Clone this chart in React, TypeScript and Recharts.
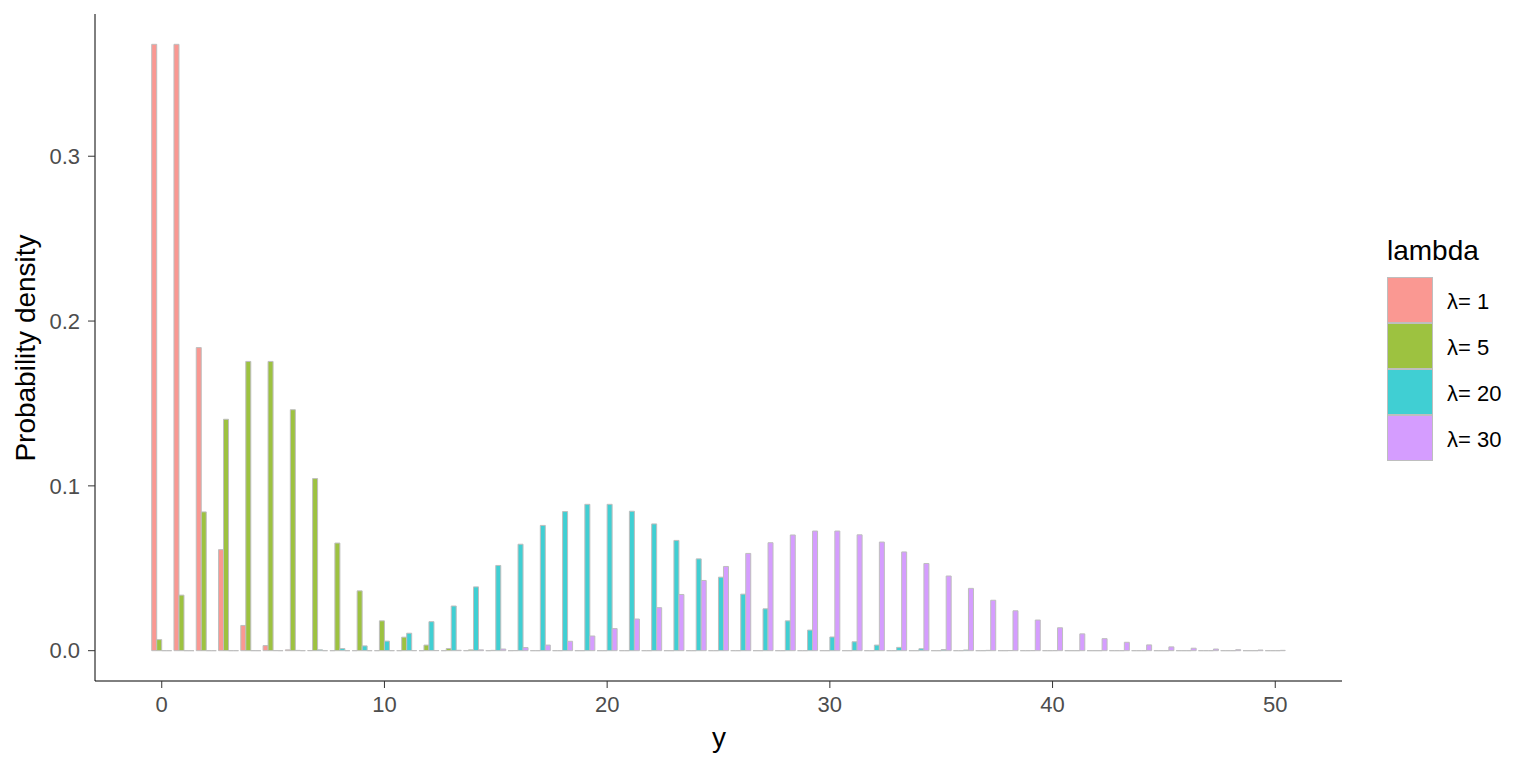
import React from "react";
import { BarChart, Bar, XAxis, YAxis } from "recharts";

// y values 0..50
const yValues = [
  0, 1, 2, 3, 4, 5, 6, 7, 8, 9, 10, 11, 12, 13, 14, 15, 16, 17, 18, 19, 20, 21, 22, 23, 24, 25,
  26, 27, 28, 29, 30, 31, 32, 33, 34, 35, 36, 37, 38, 39, 40, 41, 42, 43, 44, 45, 46, 47, 48, 49, 50,
];

// probability (near-zero bars only show their grey outline)
const lam1 = [
  0.3679, 0.3679, 0.1839, 0.0613, 0.0153, 0.0031, 0.0005, 0.00007, 0.00001, 0.000001,
  0.000001, 0.000001, 0.000001, 0.000001, 0.000001, 0.000001, 0.000001, 0.000001, 0.000001, 0.000001,
  0.000001, 0.000001, 0.000001, 0.000001, 0.000001, 0.000001, 0.000001, 0.000001, 0.000001, 0.000001,
  0.000001, 0.000001, 0.000001, 0.000001, 0.000001, 0.000001, 0.000001, 0.000001, 0.000001, 0.000001,
  0.000001, 0.000001, 0.000001, 0.000001, 0.000001, 0.000001, 0.000001, 0.000001, 0.000001, 0.000001,
  0.000001,
];
const lam5 = [
  0.0067, 0.0337, 0.0842, 0.1404, 0.1755, 0.1755, 0.1462, 0.1044, 0.0653, 0.0363,
  0.0181, 0.0082, 0.0034, 0.0013, 0.0005, 0.0002, 0.00005, 0.00001, 0.000001, 0.000001,
  0.000001, 0.000001, 0.000001, 0.000001, 0.000001, 0.000001, 0.000001, 0.000001, 0.000001, 0.000001,
  0.000001, 0.000001, 0.000001, 0.000001, 0.000001, 0.000001, 0.000001, 0.000001, 0.000001, 0.000001,
  0.000001, 0.000001, 0.000001, 0.000001, 0.000001, 0.000001, 0.000001, 0.000001, 0.000001, 0.000001,
  0.000001,
];
const lam20 = [
  0.000001, 0.000001, 0.000001, 0.000003, 0.000014, 0.000055, 0.00018, 0.00052, 0.0013, 0.0029,
  0.0058, 0.0106, 0.0176, 0.0271, 0.0387, 0.0517, 0.0646, 0.0760, 0.0844, 0.0888,
  0.0888, 0.0846, 0.0769, 0.0669, 0.0557, 0.0446, 0.0343, 0.0254, 0.0181, 0.0125,
  0.0083, 0.0054, 0.0034, 0.0020, 0.0012, 0.0007, 0.0004, 0.0002, 0.0001, 0.00005,
  0.00003, 0.00001, 0.000006, 0.000003, 0.000001, 0.000001, 0.000001, 0.000001, 0.000001, 0.000001,
  0.000001,
];
const lam30 = [
  0.000001, 0.000001, 0.000001, 0.000001, 0.000001, 0.000001, 0.000001, 0.000001, 0.000002, 0.000005,
  0.000016, 0.00004, 0.0001, 0.00024, 0.0005, 0.001, 0.0019, 0.0034, 0.0057, 0.0089,
  0.0134, 0.0192, 0.0261, 0.0341, 0.0426, 0.0511, 0.0590, 0.0655, 0.0702, 0.0726,
  0.0726, 0.0703, 0.0659, 0.0599, 0.0529, 0.0453, 0.0378, 0.0306, 0.0242, 0.0186,
  0.0139, 0.0102, 0.0073, 0.0051, 0.0035, 0.0023, 0.0015, 0.001, 0.0006, 0.0004,
  0.0002,
];

const seriesNames = ["λ= 1", "λ= 5", "λ= 20", "λ= 30"];
const seriesKeys = ["l1", "l5", "l20", "l30"];
const colors = ["#FA9892", "#9DC240", "#40CFD3", "#D59DFF"];
const yTicks = [0, 0.1, 0.2, 0.3];

const data = yValues.map((y, i) => ({
  y,
  l1: lam1[i],
  l5: lam5[i],
  l20: lam20[i],
  l30: lam30[i],
}));

const FONT = "'Liberation Sans', Arial, sans-serif";
const OUTLINE = "#BEBEBE";

export default function App() {
  return (
    <div style={{ position: "absolute", left: 0, top: 0, width: 1536, height: 768, background: "#fff" }}>
      <BarChart
        width={1536}
        height={768}
        data={data}
        margin={{ top: 14, right: 194, left: 35, bottom: 47 }}
        barCategoryGap="5%"
        barGap={0}
      >
        <XAxis
          dataKey="y"
          interval={9}
          padding={{ left: 55.6, right: 55.6 }}
          height={40}
          stroke="#000"
          tickLine={{ stroke: "#333333" }}
          tickSize={7}
          tickMargin={8}
          tick={{ fontSize: 22, fill: "#4D4D4D", fontFamily: FONT }}
        />
        <YAxis
          type="number"
          domain={[-0.0184, 0.3863]}
          allowDataOverflow
          ticks={yTicks}
          tickFormatter={(v: number) => v.toFixed(1)}
          width={60}
          stroke="#000"
          tickLine={{ stroke: "#333333" }}
          tickSize={7}
          tickMargin={8}
          tick={{ fontSize: 22, fill: "#4D4D4D", fontFamily: FONT }}
        />
        {seriesKeys.map((k, i) => (
          <Bar
            key={k}
            dataKey={k}
            name={seriesNames[i]}
            fill={colors[i]}
            stroke={OUTLINE}
            strokeWidth={1}
            isAnimationActive={false}
          />
        ))}
      </BarChart>

      {/* axis titles and legend */}
      <svg width={1536} height={768} style={{ position: "absolute", left: 0, top: 0, pointerEvents: "none" }} fontFamily={FONT}>
        <text x={719} y={747} textAnchor="middle" fontSize={28} fill="#000">y</text>
        <text x={35} y={348} textAnchor="middle" fontSize={28} fill="#000" transform="rotate(-90 35 348)">
          Probability density
        </text>
        <text x={1387} y={260} fontSize={28} fill="#000">lambda</text>
        {seriesNames.map((n, i) => (
          <g key={n}>
            <rect x={1387.5} y={277.5 + i * 46} width={45} height={45} fill={colors[i]} stroke={OUTLINE} strokeWidth={1} />
            <text x={1447} y={309 + i * 46} fontSize={22} fill="#000">{n}</text>
          </g>
        ))}
      </svg>
    </div>
  );
}
